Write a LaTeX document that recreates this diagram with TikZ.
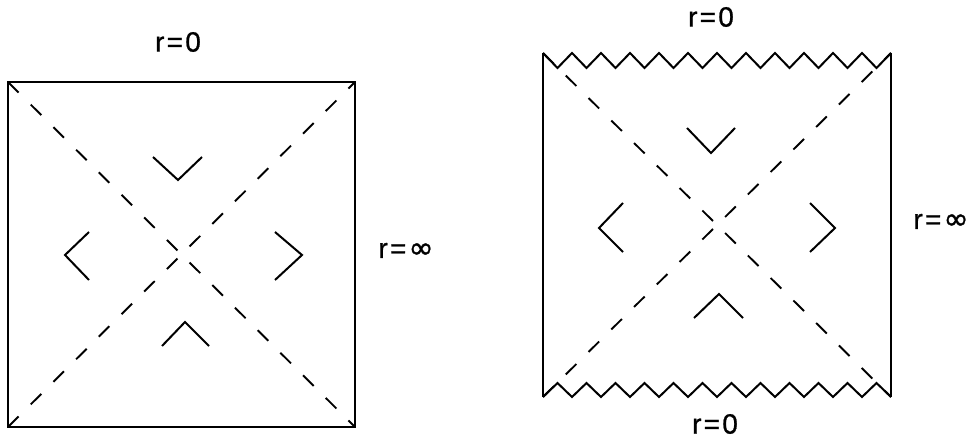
\documentclass[tikz,border=0pt]{standalone}
\usepackage{fontspec}
\setmainfont{Liberation Sans}
\newfontfamily\labfont[FakeBold=0.8]{Liberation Sans}
\newfontfamily\symfont[FakeBold=1.2]{DejaVu Sans}
\newcommand{\rlab}[1]{r\hspace{0.08em}=\hspace{0.08em}#1}
\newcommand{\infsym}{{\symfont\fontsize{30}{32}\selectfont ∞}}
\begin{document}
\begin{tikzpicture}[x=1pt,y=-1pt,
  edge/.style={line width=2pt, line join=miter},
  horizon/.style={line width=1.9pt, dash pattern=on 15pt off 17pt},
  chev/.style={line width=2pt},
  lbl/.style={inner sep=0pt, font=\labfont\fontsize{28}{32}\selectfont}]
\useasboundingbox (0,0) rectangle (971,438);
% ---- left diagram ----
\coordinate (LTL) at (8,82);
\coordinate (LTR) at (355,82);
\coordinate (LBL) at (8,427);
\coordinate (LBR) at (355,427);
\draw[edge] (LTL) -- (LTR) -- (LBR) -- (LBL) -- cycle;
\draw[horizon] (LTL) -- (LBR);
\draw[horizon] (LBL) -- (LTR);
\draw[chev] (153,157) -- (178,180) -- (202,157);
\draw[chev] (89,232) -- (65,255) -- (89,280);
\draw[chev] (275,232) -- (302,255) -- (275,280);
\draw[chev] (162,346) -- (185,322) -- (209,346);
\node[lbl] (l0) at (178,42) {\rlab{0}};
\node[lbl, anchor=base] (linf) at (406,258) {\rlab{\infsym}};
% ---- right diagram ----
\coordinate (RTL) at (543,53);
\coordinate (RTR) at (891,53);
\coordinate (RBL) at (543,397);
\coordinate (RBR) at (891,397);
\draw[edge] (RTL) -- (RBL);
\draw[edge] (RTR) -- (RBR);
\draw[edge] (RTL) \foreach \i in {0,...,11} { -- ({557.5+29*\i},68) -- ({572+29*\i},53) };
\draw[edge] (RBL) \foreach \i in {0,...,11} { -- ({557.5+29*\i},383) -- ({572+29*\i},397) };
\draw[horizon] (RTL) -- (RBR);
\draw[horizon] (RBL) -- (RTR);
\draw[chev] (687,128) -- (711,153) -- (735,128);
\draw[chev] (623,203) -- (599,228) -- (623,252);
\draw[chev] (810,203) -- (835,228) -- (810,252);
\draw[chev] (694,318) -- (719,294) -- (743,318);
\node[lbl] (r0top) at (711,17) {\rlab{0}};
\node[lbl] (r0bot) at (715,424) {\rlab{0}};
\node[lbl, anchor=base] (rinf) at (941,229) {\rlab{\infsym}};
\end{tikzpicture}
\end{document}
